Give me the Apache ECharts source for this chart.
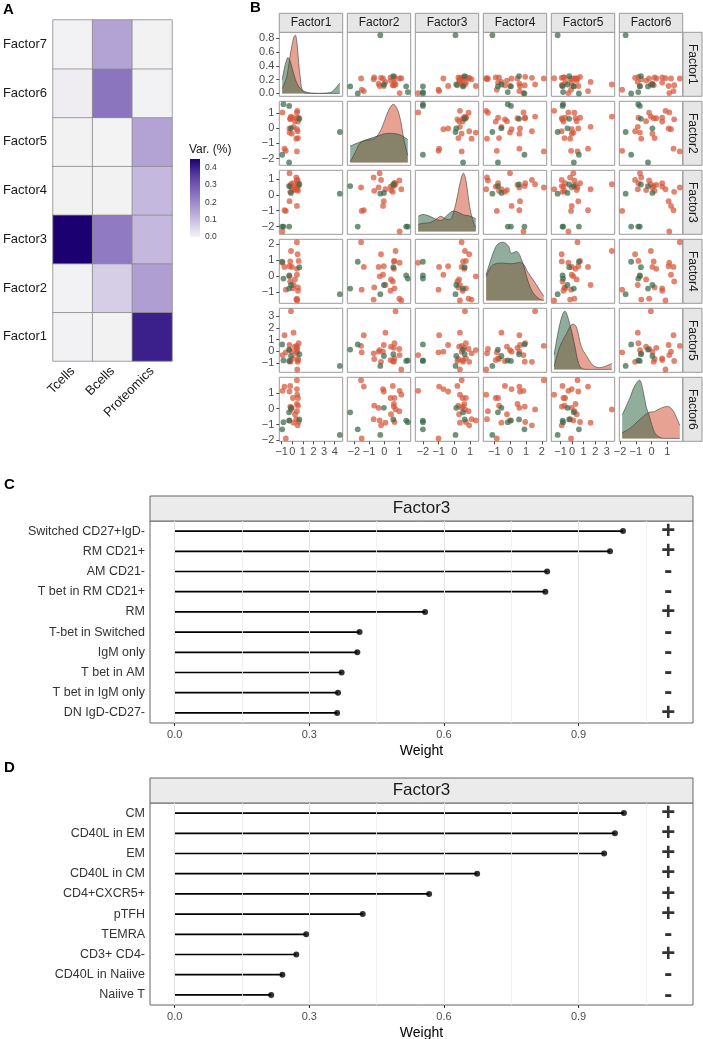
<!DOCTYPE html>
<html><head><meta charset="utf-8">
<script src="https://cdn.jsdelivr.net/npm/echarts@6/dist/echarts.min.js"></script>
<style>html,body{margin:0;padding:0;background:#fff}#c{width:703px;height:1039px}</style>
</head><body><div id="c"></div>
<script>
// ---------------- Panel A data ----------------
const heatRows = ['Factor1','Factor2','Factor3','Factor4','Factor5','Factor6','Factor7'];
const heatCols = ['Tcells','Bcells','Proteomics'];
const varTcells     = [0.005, 0.005, 0.45, 0.003, 0.003, 0.012, 0.005];
const varBcells     = [0.003, 0.07, 0.23, 0.003, 0.002, 0.24, 0.15];
const varProteomics = [0.40, 0.16, 0.11, 0.11, 0.15, 0.005, 0.003];
const legendTicks = [0, 0.1, 0.2, 0.3, 0.4];
const palette = ['#f4f4f4', '#cdc2e3', '#a694cd', '#7e66b7', '#563aa0', '#1a0070'];

// ---------------- Panel B data (samples x factors) ----------------
const factorNames = ['Factor1','Factor2','Factor3','Factor4','Factor5','Factor6'];
const redF1 = [0.44,-0.73,-0.19,0.44,-0.26,-0.92,0.47,0.54,0.06,0.44,0.54,-0.04,-0.19,-0.12,0.44,0.25,0.38,-0.26,0.60,0.12,0.50,-0.61];
const redF2 = [-1.53,-1.35,0.57,-0.08,-0.03,1.02,1.13,0.42,0.68,0.64,-0.66,-0.37,0.64,0.75,1.00,0.45,-0.70,-0.30,0.68,0.08,-0.21,-1.49];
const redF3 = [0.46,-0.97,0.19,-0.70,-0.40,-2.30,0.35,0.52,0.73,0.63,0.25,0.46,0.55,0.67,0.90,0.30,1.09,1.36,0.73,0.35,0.94,-1.01];
const redF4 = [2.12,0.58,-0.33,0.09,0.62,0.84,-1.51,-0.91,-0.76,0.46,-0.70,0.58,0.92,1.57,-1.40,-0.20,-1.46,-0.01,0.95,-0.55,1.37,-0.84];
const redF5 = [0.47,1.38,-0.83,-0.03,0.54,-0.32,-1.55,-0.75,-0.60,0.30,-0.66,-0.03,-0.89,3.44,0.20,0.40,-0.17,0.11,0.69,1.60,-0.90,-0.09];
const redF6 = [1.79,1.39,1.43,1.23,1.08,1.12,0.88,0.67,0.67,0.30,0.19,0.05,0.13,-0.05,-0.16,-0.35,-0.66,-0.74,-0.84,-0.88,-1.05,-1.87];
const greenF1 = [4.48,-0.83,-0.29,0.67,-0.12,-0.95,-0.30];
const greenF2 = [-0.26,1.56,1.45,0.60,-0.02,-1.75,-2.25];
const greenF3 = [0.07,-2.00,-2.00,0.65,0.12,-2.00,0.55];
const greenF4 = [-1.12,-0.15,0.05,0.56,-0.55,0.90,-0.77];
const greenF5 = [-1.25,-0.78,-0.82,-0.25,-0.40,0.59,0.15];
const greenF6 = [-1.65,-0.85,-0.75,-0.68,0.05,-1.30,-0.23];

// density curves: [value, density]
const densF1Red   = [[-0.95,0.07],[-0.8,0.12],[-0.5,0.25],[-0.2,0.55],[0,0.72],[0.15,0.82],[0.29,0.845],[0.45,0.72],[0.6,0.45],[0.76,0.22],[0.92,0.06],[1.2,0.005],[1.6,0],[4.48,0]];
const densF1Green = [[-0.95,0.2],[-0.75,0.36],[-0.55,0.48],[-0.41,0.52],[-0.2,0.47],[0,0.36],[0.3,0.2],[0.6,0.1],[0.92,0.05],[1.3,0.02],[1.8,0.004],[2.5,0],[3.2,0.004],[3.7,0.02],[4.1,0.08],[4.48,0.15]];
const densF2Red   = [[-2.25,0.01],[-1.9,0.18],[-1.6,0.33],[-1.2,0.38],[-0.7,0.4],[-0.3,0.52],[0,0.7],[0.3,0.9],[0.6,1.0],[0.97,0.84],[1.31,0.38],[1.56,0.12]];
const densF2Green = [[-2.25,0.28],[-1.6,0.35],[-0.7,0.43],[0.3,0.5],[0.97,0.48],[1.47,0.41],[1.56,0.39]];
const densF3Red   = [[-2.3,0.12],[-2.0,0.14],[-1.57,0.15],[-1.1,0.22],[-0.86,0.26],[-0.6,0.22],[-0.3,0.2],[0,0.38],[0.2,0.62],[0.4,0.88],[0.57,1.0],[0.75,0.85],[0.95,0.45],[1.2,0.16],[1.36,0.07]];
const densF3Green = [[-2.3,0.26],[-2.0,0.29],[-1.57,0.26],[-1.1,0.2],[-0.86,0.19],[-0.49,0.27],[-0.06,0.35],[0.3,0.32],[0.6,0.28],[0.9,0.27],[1.36,0.22]];
const densF4Red   = [[-1.51,0.41],[-1.09,0.61],[-0.45,0.64],[0.08,0.63],[0.6,0.65],[0.85,0.62],[1.1,0.49],[1.46,0.35],[1.88,0.17],[2.12,0.07]];
const densF4Green = [[-1.51,0.44],[-1.09,0.8],[-0.8,0.96],[-0.45,1.0],[-0.1,0.93],[0.08,0.81],[0.4,0.84],[0.72,0.7],[0.93,0.52],[1.1,0.35],[1.4,0.15],[1.8,0.03],[2.12,0]];
const densF5Red   = [[-1.55,0.05],[-1.06,0.39],[-0.5,0.61],[0.08,0.78],[0.37,0.73],[0.8,0.39],[1.23,0.24],[1.81,0.07],[2.4,0.03],[2.97,0.06],[3.44,0.1]];
const densF5Green = [[-1.55,0.25],[-1.06,0.78],[-0.63,1.0],[-0.2,0.78],[0.2,0.44],[0.57,0.1],[0.9,0.01],[1.5,0],[3.44,0]];
const densF6Red   = [[-1.87,0.1],[-1.39,0.17],[-0.77,0.32],[-0.14,0.45],[0.17,0.46],[0.59,0.52],[1.01,0.55],[1.33,0.49],[1.64,0.32],[1.79,0.22]];
const densF6Green = [[-1.87,0.4],[-1.39,0.69],[-1.08,0.9],[-0.77,1.0],[-0.56,0.84],[-0.35,0.55],[-0.14,0.38],[0.05,0.2],[0.3,0.06],[0.8,0],[1.79,0]];

const ticksF1 = [-1,0,1,2,3,4];
const ticksF2 = [-2,-1,0,1];
const ticksF3 = [-2,-1,0,1];
const ticksF4 = [-1,0,1,2];
const ticksF5 = [-1,0,1,2,3];
const ticksF6 = [-2,-1,0,1];
const densTicks = [0,0.2,0.4,0.6,0.8];

// ---------------- Panels C and D data ----------------
const cCats = ['Switched CD27+IgD-','RM CD21+','AM CD21-','T bet in RM CD21+','RM','T-bet in Switched','IgM only','T bet in AM','T bet in IgM only','DN IgD-CD27-'];
const cWeights = [0.999,0.970,0.830,0.826,0.558,0.412,0.407,0.372,0.364,0.362];
const cSigns = ['+','+','-','-','+','-','-','-','-','+'];
const dCats = ['CM','CD40L in EM','EM','CD40L in CM','CD4+CXCR5+','pTFH','TEMRA','CD3+ CD4-','CD40L in Naiive','Naiive T'];
const dWeights = [1.001,0.981,0.957,0.674,0.567,0.419,0.293,0.271,0.240,0.215];
const dSigns = ['+','+','+','+','+','+','-','+','-','-'];
const weightTicks = [0,0.3,0.6,0.9];
const weightMajor = [0,0.3,0.6,0.9];
const weightMinor = [0.15,0.45,0.75,1.05];
const signPosition = 1.1;

// ---------------- build ----------------
const FONT = '"Liberation Sans", Arial, Helvetica, sans-serif';
const grids = [], xAxis = [], yAxis = [], series = [], graphic = [];
function addGrid(rect, xa, ya) {
  const gi = grids.length;
  grids.push(Object.assign({show:false, outerBoundsMode:'none', containLabel:false}, rect));
  xAxis.push(Object.assign({gridIndex:gi}, xa));
  yAxis.push(Object.assign({gridIndex:gi}, ya));
  return gi;
}
const fmtMinus = v => (v < 0 ? '\u2212' + Math.abs(v) : String(v));
const noLine = {show:false, onZero:false};

// Panel A heatmap
const gA = addGrid({left:53, top:20, width:119, height:341},
  {type:'category', data:heatCols, axisLine:noLine, axisTick:{show:false}, splitLine:{show:false},
   axisLabel:{rotate:45, fontSize:13, color:'#1a1a1a', margin:8}},
  {type:'category', data:heatRows, axisLine:noLine, axisTick:{show:false}, splitLine:{show:false},
   axisLabel:{fontSize:13, color:'#1a1a1a', margin:6}});
const heatData = [];
heatRows.forEach((r, i) => {
  heatData.push([0, i, varTcells[i]], [1, i, varBcells[i]], [2, i, varProteomics[i]]);
});
const varMax = Math.max(...varTcells, ...varBcells, ...varProteomics);
series.push({type:'heatmap', xAxisIndex:gA, yAxisIndex:gA, data:heatData, silent:true,
  itemStyle:{borderColor:'#8a8a8a', borderWidth:0.8}});
const heatSeriesIndex = series.length - 1;

// legend color bar
const gL = addGrid({left:190, top:159, width:10, height:78},
  {type:'category', data:['Var'], show:false},
  {type:'value', min:0, max:varMax, position:'right', axisLine:noLine, splitLine:{show:false},
   axisTick:{show:true, inside:true, length:2, customValues:legendTicks, lineStyle:{color:'#ffffff', width:1}},
   axisLabel:{customValues:legendTicks, fontSize:8.5, color:'#333', margin:5, formatter:v => v.toFixed(1)}});
series.push({type:'bar', xAxisIndex:gL, yAxisIndex:gL, data:[varMax], barWidth:'100%', silent:true,
  itemStyle:{color:{type:'linear', x:0, y:1, x2:0, y2:0,
    colorStops:palette.map((c, i) => ({offset:i / (palette.length - 1), color:c}))}}});

// Panel B pairs plot
const redF = [redF1, redF2, redF3, redF4, redF5, redF6];
const greenF = [greenF1, greenF2, greenF3, greenF4, greenF5, greenF6];
const densRed = [densF1Red, densF2Red, densF3Red, densF4Red, densF5Red, densF6Red];
const densGreen = [densF1Green, densF2Green, densF3Green, densF4Green, densF5Green, densF6Green];
const ticksF = [ticksF1, ticksF2, ticksF3, ticksF4, ticksF5, ticksF6];
const ranges = redF.map((arr, k) => {
  const all = arr.concat(greenF[k]);
  const mn = Math.min(...all), mx = Math.max(...all), pad = (mx - mn) * 0.05;
  return [mn - pad, mx + pad];
});
const B_LEFT0 = 279.3, B_PX = 68, B_W = 63.4, B_TOP0 = 32.3, B_PY = 69, B_H = 64;
const RED = 'rgb(214,86,58)', GREEN = 'rgb(55,105,75)';
const borderB = '#9a9a9a', labB = '#4d4d4d';
for (let i = 0; i < 6; i++) {
  for (let j = 0; j < 6; j++) {
    const isDiag = i === j;
    let yMin, yMax;
    if (isDiag) {
      const dm = Math.max(...densRed[i].map(p => p[1]), ...densGreen[i].map(p => p[1]));
      yMin = -0.05 * dm; yMax = 1.05 * dm;
    } else { yMin = ranges[i][0]; yMax = ranges[i][1]; }
    const showY = j === 0, showX = i === 5;
    const yTicks = (i === 0) ? densTicks : ticksF[i];
    const gi = addGrid({left:B_LEFT0 + j * B_PX, top:B_TOP0 + i * B_PY, width:B_W, height:B_H,
        show:true, borderColor:borderB, borderWidth:1, backgroundColor:'#fff'},
      {type:'value', min:ranges[j][0], max:ranges[j][1], axisLine:noLine, splitLine:{show:false},
       axisTick:{show:showX, length:3, customValues:ticksF[j], lineStyle:{color:labB}},
       axisLabel:{show:showX, customValues:ticksF[j], fontSize:11, color:labB, margin:5, formatter:fmtMinus}},
      {type:'value', min:yMin, max:yMax, axisLine:noLine, splitLine:{show:false},
       axisTick:{show:showY, length:3, customValues:yTicks, lineStyle:{color:labB}},
       axisLabel:{show:showY, customValues:yTicks, fontSize:11, color:labB, margin:5,
         formatter:(i === 0 ? (v => v.toFixed(1)) : fmtMinus)}});
    if (isDiag) {
      [[densRed[i], RED], [densGreen[i], GREEN]].forEach(([d, col]) => {
        series.push({type:'line', xAxisIndex:gi, yAxisIndex:gi, data:d, smooth:0.35, symbol:'none', silent:true,
          lineStyle:{color:'#3a3a3a', width:0.6}, areaStyle:{color:col, opacity:0.55}});
      });
    } else {
      [[redF, RED], [greenF, GREEN]].forEach(([F, col]) => {
        series.push({type:'scatter', xAxisIndex:gi, yAxisIndex:gi, silent:true, symbolSize:5.8,
          data:F[j].map((v, s) => [v, F[i][s]]),
          itemStyle:{color:col, opacity:0.72}});
      });
    }
  }
}
// strips for B
factorNames.forEach((n, j) => {
  const x = B_LEFT0 + j * B_PX;
  graphic.push({type:'rect', shape:{x:x, y:13.3, width:B_W, height:19}, style:{fill:'#e6e6e6', stroke:borderB, lineWidth:1}});
  graphic.push({type:'text', x:x + B_W / 2, y:23, style:{text:n, fontSize:12, fontFamily:FONT, fill:'#1a1a1a', align:'center', verticalAlign:'middle'}});
  const y = B_TOP0 + j * B_PY;
  graphic.push({type:'rect', shape:{x:683, y:y, width:19, height:B_H}, style:{fill:'#e6e6e6', stroke:borderB, lineWidth:1}});
  graphic.push({type:'text', x:692.5, y:y + B_H / 2, rotation:-Math.PI / 2,
    style:{text:n, fontSize:12, fontFamily:FONT, fill:'#1a1a1a', align:'center', verticalAlign:'middle'}});
});

// Panels C, D lollipops
function lollipop(top, cats, weights, signs) {
  const gi = addGrid({left:150, top:top, width:543, height:202, show:true, borderColor:'#666', borderWidth:1},
    {type:'value', min:-0.055, max:1.155, axisLine:noLine, splitLine:{show:false},
     axisTick:{show:true, length:3, customValues:weightTicks, lineStyle:{color:'#333'}},
     axisLabel:{customValues:weightTicks, fontSize:11, color:'#4d4d4d', margin:6, formatter:v => v.toFixed(1)},
     name:'Weight', nameLocation:'middle', nameGap:21, nameTextStyle:{fontSize:14, color:'#000', fontFamily:FONT}},
    {type:'category', data:cats, inverse:true, axisLine:noLine, splitLine:{show:false},
     axisTick:{show:false},
     axisLabel:{fontSize:12.5, color:'#333', margin:5}});
  series.push({type:'line', xAxisIndex:gi, yAxisIndex:gi, data:[], z:1, silent:true,
    markLine:{silent:true, symbol:['none','none'], label:{show:false}, animation:false,
      data:weightMajor.map(v => ({xAxis:v, lineStyle:{color:'#e3e3e3', width:1, type:'solid'}}))
        .concat(weightMinor.map(v => ({xAxis:v, lineStyle:{color:'#eeeeee', width:0.8, type:'solid'}})))}});
  series.push({type:'bar', xAxisIndex:gi, yAxisIndex:gi, data:weights, barWidth:1.7, z:3, silent:true,
    itemStyle:{color:'#000'}});
  series.push({type:'scatter', xAxisIndex:gi, yAxisIndex:gi, z:4, silent:true, symbolSize:6,
    data:weights.map((w, k) => [w, cats[k]]), itemStyle:{color:'#000'}});
  series.push({type:'scatter', xAxisIndex:gi, yAxisIndex:gi, z:4, silent:true, symbolSize:1,
    data:signs.map((s, k) => ({value:[signPosition, cats[k]], name:s})),
    itemStyle:{color:'rgba(0,0,0,0)'},
    label:{show:true, position:'inside', formatter:'{b}', fontSize:24, fontWeight:'bold', color:'#000', fontFamily:FONT}});
  graphic.push({type:'rect', shape:{x:150, y:top - 25, width:543, height:25}, style:{fill:'#ebebeb', stroke:'#666', lineWidth:1}});
  graphic.push({type:'text', x:421.5, y:top - 12.5, style:{text:'Factor3', fontSize:17, fontFamily:FONT, fill:'#1a1a1a', align:'center', verticalAlign:'middle'}});
}
lollipop(521, cCats, cWeights, cSigns);
lollipop(803, dCats, dWeights, dSigns);

// panel letters and legend title
[['A', 3, 10], ['B', 250, 8], ['C', 4, 485], ['D', 4, 768]].forEach(([t, x, y]) => {
  graphic.push({type:'text', x:x, y:y, style:{text:t, fontSize:15, fontWeight:'bold', fontFamily:FONT, fill:'#000', align:'left', verticalAlign:'middle'}});
});
graphic.push({type:'text', x:189, y:150, style:{text:'Var. (%)', fontSize:12, fontFamily:FONT, fill:'#1a1a1a', align:'left', verticalAlign:'middle'}});

const chart = echarts.init(document.getElementById('c'), null, {renderer:'canvas'});
chart.setOption({
  animation:false,
  backgroundColor:'#fff',
  textStyle:{fontFamily:FONT},
  grid:grids, xAxis:xAxis, yAxis:yAxis, series:series,
  visualMap:[{type:'continuous', show:false, min:0, max:varMax, dimension:2,
    seriesIndex:[heatSeriesIndex], inRange:{color:palette}}],
  graphic:{elements:graphic}
});
</script></body></html>
